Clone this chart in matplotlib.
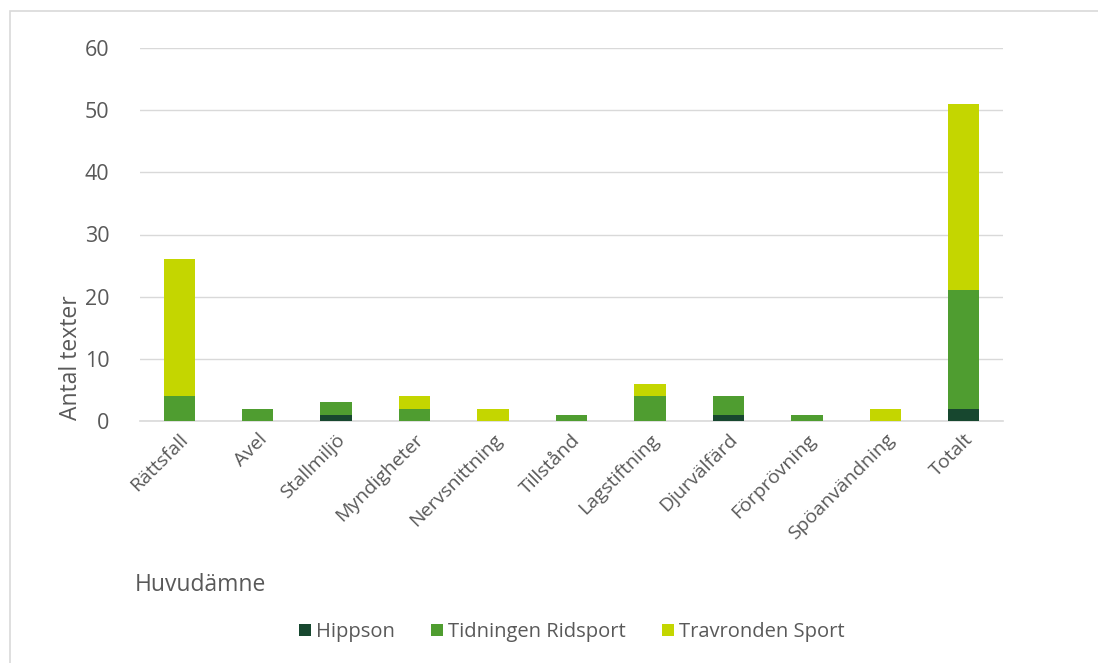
import numpy as np
import matplotlib.pyplot as plt
from matplotlib.patches import Rectangle

categories = ['Rättsfall', 'Avel', 'Stallmiljö', 'Myndigheter', 'Nervsnittning',
              'Tillstånd', 'Lagstiftning', 'Djurvälfärd', 'Förprövning',
              'Spöanvändning', 'Totalt']
hippson = [0, 0, 1, 0, 0, 0, 0, 1, 0, 0, 2]
ridsport = [4, 2, 2, 2, 0, 1, 4, 3, 1, 0, 19]
travronden = [22, 0, 0, 2, 2, 0, 2, 0, 0, 2, 30]
series_names = ['Hippson', 'Tidningen Ridsport', 'Travronden Sport']
colors = ['#17472f', '#4f9d30', '#c4d600']

plt.rcParams['font.family'] = ['Open Sans', 'DejaVu Sans']
txt = '#595959'

fig = plt.figure(figsize=(10.98, 6.63), dpi=100)
ax = fig.add_axes([140/1098, 1 - 421/663, 863/1098, 373/663])

x = np.arange(len(categories))
w = 0.4
bottom = np.zeros(len(categories))
for vals, name, c in zip([hippson, ridsport, travronden], series_names, colors):
    ax.bar(x, vals, w, bottom=bottom, color=c, label=name, zorder=3)
    bottom += np.array(vals)

ax.set_xlim(-0.5, len(categories) - 0.5)
ax.set_ylim(0, 60)
ax.set_yticks(range(0, 61, 10))
ax.grid(axis='y', color='#d9d9d9', linewidth=1, zorder=0)
for s in ['top', 'right', 'left']:
    ax.spines[s].set_visible(False)
ax.spines['bottom'].set_color('#d9d9d9')
ax.spines['bottom'].set_linewidth(1.2)
ax.tick_params(length=0, colors=txt, labelsize=14)
ax.tick_params(axis='y', pad=22, labelsize=15.5)
ax.tick_params(axis='x', pad=7)
ax.set_xticks(x)
ax.set_xticklabels(categories, rotation=45, ha='right', rotation_mode='anchor')

ax.set_ylabel('Antal texter', fontsize=16.5, color=txt)
ax.yaxis.set_label_coords(-0.066, 0.17)
fig.text(135/1098, 1 - 585/663, 'Huvudämne', fontsize=16.5, color=txt, va='center')

leg = fig.legend(loc='center', bbox_to_anchor=(572/1098, 1 - 632/663), ncol=3,
                 frameon=False, fontsize=14.5, handlelength=0.6, handleheight=0.6,
                 handletextpad=0.25, columnspacing=1.8)
for t in leg.get_texts():
    t.set_color(txt)

fig.patches.append(Rectangle((10/1098, -0.1), 1.2, 1 - 11/663 + 0.1,
                             transform=fig.transFigure, fill=False,
                             edgecolor='#d9d9d9', linewidth=1.2))

fig.savefig('out.png', dpi=100)
